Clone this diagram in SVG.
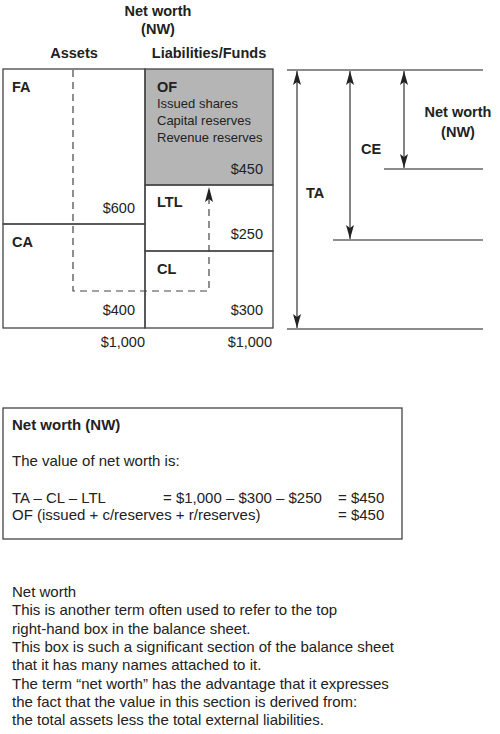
<svg xmlns="http://www.w3.org/2000/svg" width="500" height="734" viewBox="0 0 500 734">
<style>
text{font-family:"Liberation Sans",Arial,sans-serif;fill:#222}
.b{font-weight:bold;font-size:14.5px}
.n{font-size:13px}
.v{font-size:14.5px}
.t{font-size:15px}
.box{fill:none;stroke:#444;stroke-width:1.3}
.ln{stroke:#666;stroke-width:1.3;fill:none}
.dash{stroke:#444;stroke-width:1.2;fill:none;stroke-dasharray:7 5}
.r{text-anchor:end}
.m{text-anchor:middle}
</style>
<defs>
<marker id="ah2" viewBox="0 0 14 8" refX="14" refY="4" markerWidth="14" markerHeight="8" markerUnits="userSpaceOnUse" orient="auto-start-reverse">
<path d="M0,0 L14,4 L0,8 L3,4 Z" fill="#222"/>
</marker>
</defs>
<g id="headers">
<text class="b m" x="158" y="16">Net worth</text>
<text class="b m" x="158" y="34">(NW)</text>
<text class="b m" x="74" y="58">Assets</text>
<text class="b m" x="209" y="58">Liabilities/Funds</text>
</g>
<g id="OF">
<rect x="145" y="69" width="128" height="116" fill="#b5b5b5" stroke="#444" stroke-width="1.3"/>
<text class="b" x="157" y="92">OF</text>
<text class="n" x="157" y="108">Issued shares</text>
<text class="n" x="157" y="125">Capital reserves</text>
<text class="n" x="157" y="142">Revenue reserves</text>
<text class="v r" x="263" y="174">$450</text>
</g>
<g id="FA">
<rect class="box" x="3" y="69" width="142" height="155"/>
<text class="b" x="12" y="92">FA</text>
<text class="v r" x="135" y="213">$600</text>
</g>
<g id="CA">
<rect class="box" x="3" y="224" width="142" height="104"/>
<text class="b" x="12" y="247">CA</text>
<text class="v r" x="135" y="315">$400</text>
</g>
<g id="LTL">
<rect class="box" x="145" y="185" width="128" height="66"/>
<text class="b" x="157" y="207">LTL</text>
<text class="v r" x="263" y="239">$250</text>
</g>
<g id="CL">
<rect class="box" x="145" y="251" width="128" height="77"/>
<text class="b" x="157" y="274">CL</text>
<text class="v r" x="263" y="315">$300</text>
</g>
<g id="totals">
<text class="v r" x="145" y="347">$1,000</text>
<text class="v r" x="272" y="347">$1,000</text>
</g>
<g id="connectors">
<path class="dash" d="M73,70 V291 H209 V192"/>
<path d="M209,187 L205,202 L209,199 L213,202 Z" fill="#222"/>
<line class="ln" x1="287" y1="70" x2="483" y2="70"/>
<line class="ln" x1="287" y1="329" x2="483" y2="329"/>
<line class="ln" x1="384" y1="169" x2="483" y2="169"/>
<line class="ln" x1="333" y1="240" x2="483" y2="240"/>
<line x1="297" y1="71" x2="297" y2="328" stroke="#333" stroke-width="1.2" marker-start="url(#ah2)" marker-end="url(#ah2)"/>
<line x1="350" y1="71" x2="350" y2="239" stroke="#333" stroke-width="1.2" marker-start="url(#ah2)" marker-end="url(#ah2)"/>
<line x1="404" y1="71" x2="404" y2="168" stroke="#333" stroke-width="1.2" marker-start="url(#ah2)" marker-end="url(#ah2)"/>
</g>
<g id="dim-labels">
<text class="b" x="306" y="198">TA</text>
<text class="b" x="361" y="154">CE</text>
<text class="b m" x="458" y="117">Net worth</text>
<text class="b m" x="458" y="137">(NW)</text>
</g>
<g id="nw-box">
<rect class="box" x="3" y="408" width="399" height="131"/>
<text class="b" x="12" y="430" style="font-size:15px">Net worth (NW)</text>
<text class="t" x="12" y="466">The value of net worth is:</text>
<text class="t" x="12" y="503">TA – CL – LTL</text>
<text class="t" x="163" y="503">= $1,000 – $300 – $250</text>
<text class="t" x="338" y="503">= $450</text>
<text class="t" x="12" y="520">OF (issued + c/reserves + r/reserves)</text>
<text class="t" x="338" y="520">= $450</text>
</g>
<g id="notes">
<text class="t" x="12" y="597">Net worth</text>
<text class="t" x="12" y="615.3">This is another term often used to refer to the top</text>
<text class="t" x="12" y="633.6">right-hand box in the balance sheet.</text>
<text class="t" x="12" y="651.9">This box is such a significant section of the balance sheet</text>
<text class="t" x="12" y="670.2">that it has many names attached to it.</text>
<text class="t" x="12" y="688.5">The term “net worth” has the advantage that it expresses</text>
<text class="t" x="12" y="706.8">the fact that the value in this section is derived from:</text>
<text class="t" x="12" y="725">the total assets less the total external liabilities.</text>
</g>
</svg>
